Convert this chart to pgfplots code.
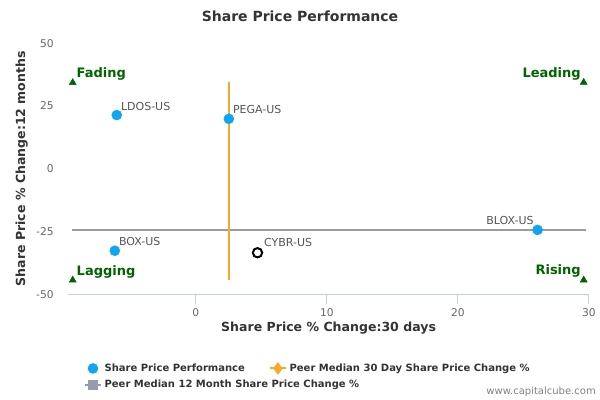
\documentclass[border=0pt]{standalone}
\usepackage{fontspec}
\setmainfont{DejaVu Sans}
\usepackage{pgfplots}
\pgfplotsset{compat=1.18}
\definecolor{ptblue}{RGB}{16,165,240}
\definecolor{medorange}{RGB}{248,168,40}
\definecolor{medgray}{RGB}{152,156,170}
\definecolor{axisblue}{RGB}{192,208,224}
\definecolor{ticklab}{RGB}{102,102,102}
\definecolor{titlecol}{RGB}{51,51,51}
\definecolor{qgreen}{RGB}{0,100,0}
\definecolor{labgray}{RGB}{85,85,85}
\begin{document}
\begin{tikzpicture}
\path[use as bounding box] (0bp,0bp) rectangle (450bp,300bp);
\node[font=\bfseries\fontsize{10.5bp}{12bp}\selectfont, text=titlecol] at (225bp,288bp) {Share Price Performance};
\node[font=\fontsize{7.5bp}{9bp}\selectfont, text=gray, anchor=east, inner sep=0pt] at (447bp,6bp) {www.capitalcube.com};
\begin{axis}[
  at={(51.2bp,79.4bp)}, anchor=south west, scale only axis,
  width=390.5bp, height=188.1bp,
  xmin=-9.73, xmax=30, ymin=-50, ymax=50,
  xtick={0,10,20,30}, ytick={-50,-25,0,25,50},
  axis x line*=bottom, axis y line*=left,
  x axis line style={draw=axisblue, line width=0.75bp},
  y axis line style={draw=none},
  xtick style={draw=axisblue, line width=0.75bp},
  ytick style={draw=none},
  tick align=outside, major tick length=7.5bp,
  ticklabel style={font=\fontsize{8bp}{9.6bp}\selectfont, text=ticklab},
  /pgf/number format/assume math mode=true,
  xlabel={Share Price \% Change:30 days},
  ylabel={Share Price \% Change:12 months},
  xlabel style={at={(axis description cs:0.5,-0.135)}, anchor=center, font=\bfseries\fontsize{9.4bp}{11bp}\selectfont, text=titlecol},
  ylabel style={at={(axis description cs:-0.0895,0.5)}, anchor=center, font=\bfseries\fontsize{9.4bp}{11bp}\selectfont, text=titlecol},
  clip=false,
  legend image code/.code={\draw[mark repeat=2,mark phase=2,#1] plot coordinates {(0bp,0bp) (6bp,0bp) (12bp,0bp)};},
  legend columns=2,
  legend cell align=left,
  legend style={at={(axis description cs:0.022,-0.255)}, anchor=north west, draw=none, fill=none,
    font=\bfseries\fontsize{7.5bp}{9bp}\selectfont, text=titlecol,
    /tikz/every even column/.append style={column sep=16bp}, row sep=1bp},
]
\addlegendimage{only marks, mark=*, mark size=3.75bp, ptblue}
\addlegendentry{Share Price Performance}
\addlegendimage{medorange, line width=1.5bp, mark=diamond*, mark size=3.5bp}
\addlegendentry{Peer Median 30 Day Share Price Change \%}
\addlegendimage{medgray, line width=1.5bp, mark=square*, mark size=3bp}
\addlegendentry{\rlap{Peer Median 12 Month Share Price Change \%}}

% peer median lines
\addplot[medgray, line width=1.5bp, forget plot] coordinates {(-9.44,-24.4) (29.75,-24.4)};
\addplot[medorange, line width=1.5bp, forget plot] coordinates {(2.54,34.4) (2.54,-44.4)};

% quadrant markers
\addplot[only marks, mark=triangle*, mark size=3bp, color=qgreen, forget plot,
  nodes near coords, point meta=explicit symbolic,
  nodes near coords style={anchor=base west, inner sep=0pt, xshift=2.8bp, yshift=3.75bp,
    font=\bfseries\fontsize{9.75bp}{11bp}\selectfont, text=qgreen}]
  table[meta=label] {
x y label
-9.39 34.3 Fading
-9.39 -44.4 Lagging
};
\addplot[only marks, mark=triangle*, mark size=3bp, color=qgreen, forget plot,
  nodes near coords, point meta=explicit symbolic,
  nodes near coords style={anchor=base east, inner sep=0pt, xshift=-2bp, yshift=4bp,
    font=\bfseries\fontsize{9.75bp}{11bp}\selectfont, text=qgreen}]
  table[meta=label] {
x y label
29.6 34.4 Leading
29.6 -44.4 Rising
};

% peers
\addplot[only marks, mark=*, mark size=3.75bp, color=ptblue, forget plot,
  nodes near coords, point meta=explicit symbolic,
  nodes near coords style={anchor=base west, inner sep=0pt, xshift=3bp, yshift=3.75bp,
    font=\fontsize{8.25bp}{10bp}\selectfont, text=labgray}]
  table[meta=label] {
x y label
-6.03 21.4 LDOS-US
2.52 19.9 PEGA-US
-6.18 -32.7 BOX-US
};
\addplot[only marks, mark=*, mark size=3.75bp, color=ptblue, forget plot,
  nodes near coords, point meta=explicit symbolic,
  nodes near coords style={anchor=base east, inner sep=0pt, xshift=-2.8bp, yshift=3.75bp,
    font=\fontsize{8.25bp}{10bp}\selectfont, text=labgray}]
  table[meta=label] {
x y label
26.08 -24.4 BLOX-US
};
% company
\addplot[only marks, mark=o, mark size=3.5bp, line width=1.5bp, color=black, forget plot,
  nodes near coords, point meta=explicit symbolic,
  nodes near coords style={anchor=base west, inner sep=0pt, xshift=4.2bp, yshift=4.5bp,
    font=\fontsize{8.25bp}{10bp}\selectfont, text=labgray}]
  table[meta=label] {
x y label
4.71 -33.5 CYBR-US
};
\end{axis}
\end{tikzpicture}
\end{document}
